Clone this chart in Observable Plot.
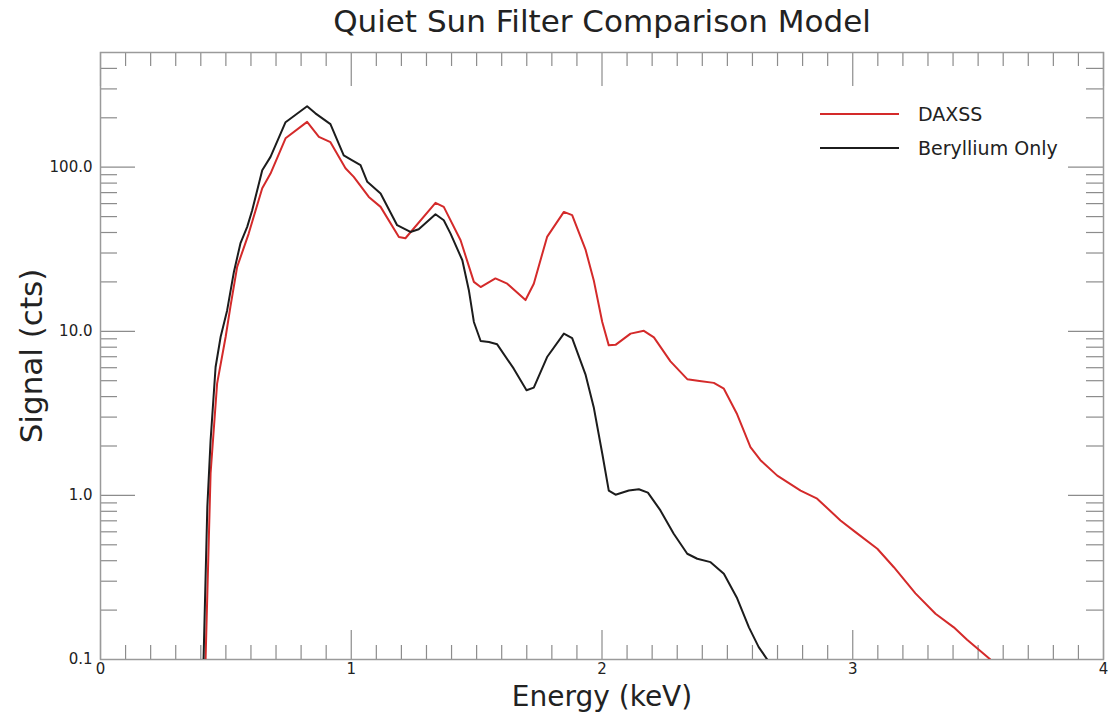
<!DOCTYPE html>
<html>
<head>
<meta charset="utf-8">
<script src="https://cdn.jsdelivr.net/npm/d3@7"></script>
<script src="https://cdn.jsdelivr.net/npm/@observablehq/plot@0.6"></script>
<style>
  html, body { margin: 0; padding: 0; background: #fff; }
  #wrap { position: relative; width: 1109px; height: 714px; font-family: "DejaVu Sans", sans-serif; }
  #legend { position: absolute; left: 820px; top: 97px; font-size: 19px; color: #222; }
  #legend .row { display: flex; align-items: center; height: 34px; }
  #legend .swatch { width: 79px; height: 0; border-top: 2.5px solid; margin-right: 19px; }
</style>
</head>
<body>
<div id="wrap">
  <div id="chart"></div>
  <div id="legend"></div>
</div>
<script>
// Modelled quiet-Sun count spectra, signal (cts) vs. photon energy (keV)
const daxssEnergy = [0.419, 0.439, 0.465, 0.499, 0.518, 0.545, 0.591, 0.645, 0.678, 0.738,
  0.824, 0.871, 0.917, 0.977, 1.010, 1.070, 1.117, 1.190, 1.216, 1.336,
  1.369, 1.436, 1.489, 1.516, 1.575, 1.622, 1.695, 1.728, 1.781, 1.848,
  1.881, 1.934, 1.967, 2.001, 2.027, 2.054, 2.114, 2.167, 2.207, 2.273,
  2.340, 2.389, 2.446, 2.486, 2.539, 2.592, 2.632, 2.699, 2.792, 2.858,
  2.951, 3.011, 3.098, 3.164, 3.250, 3.330, 3.403, 3.456, 3.549];
const daxssSignal = [0.1, 1.36, 4.80, 9.23, 14.1, 24.7, 39.4, 74.5, 91.5, 150,
  189, 153, 142, 98.6, 87.3, 65.9, 57.3, 37.6, 36.9, 60.7,
  57.3, 35.9, 20.0, 18.6, 21.0, 19.5, 15.5, 19.5, 37.6, 53.4,
  51.0, 31.6, 20.5, 11.4, 8.21, 8.27, 9.68, 10.07, 9.19, 6.56,
  5.11, 4.98, 4.85, 4.47, 3.12, 1.97, 1.64, 1.32, 1.07, 0.955,
  0.704, 0.597, 0.473, 0.365, 0.253, 0.190, 0.157, 0.132, 0.1];

const berylliumEnergy = [0.411, 0.426, 0.439, 0.459, 0.479, 0.505, 0.532, 0.558, 0.585, 0.605,
  0.645, 0.678, 0.738, 0.824, 0.857, 0.917, 0.970, 1.004, 1.037, 1.064,
  1.117, 1.183, 1.236, 1.269, 1.336, 1.369, 1.396, 1.443, 1.469, 1.489,
  1.516, 1.549, 1.582, 1.648, 1.699, 1.728, 1.781, 1.848, 1.881, 1.934,
  1.967, 2.001, 2.027, 2.054, 2.107, 2.147, 2.183, 2.233, 2.286, 2.340,
  2.380, 2.433, 2.486, 2.539, 2.586, 2.625, 2.659];
const berylliumSignal = [0.1, 0.849, 2.16, 6.06, 9.23, 13.4, 23.0, 34.3, 43.3, 54.7,
  95.9, 115.6, 188, 235, 213, 183, 118, 110, 103, 81.4,
  69.1, 44.3, 40.3, 41.9, 51.7, 47.5, 39.4, 27.1, 17.8, 11.4,
  8.73, 8.61, 8.33, 5.92, 4.37, 4.54, 6.97, 9.68, 9.09, 5.47,
  3.45, 1.80, 1.07, 1.01, 1.07, 1.09, 1.04, 0.810, 0.584, 0.441,
  0.411, 0.392, 0.333, 0.236, 0.157, 0.119, 0.1];

const seriesNames = ["DAXSS", "Beryllium Only"];
const seriesColors = ["#d42a2a", "#1c1c1c"];

// axis ticks
const xMajor = [0, 1, 2, 3, 4];
const xMinor = d3.range(0, 41).map(i => i / 10).filter(v => !xMajor.includes(v));
const yMajor = [0.1, 1, 10, 100];
const yMinor = [0.2, 0.3, 0.4, 0.5, 0.6, 0.7, 0.8, 0.9,
  2, 3, 4, 5, 6, 7, 8, 9,
  20, 30, 40, 50, 60, 70, 80, 90,
  200, 300, 400];

const rows = [
  ...daxssEnergy.map((e, i) => ({series: seriesNames[0], energy: e, signal: daxssSignal[i]})),
  ...berylliumEnergy.map((e, i) => ({series: seriesNames[1], energy: e, signal: berylliumSignal[i]}))
];

const W = 1109, H = 714, mL = 100, mR = 6, mT = 52, mB = 55;
const innerW = W - mL - mR, innerH = H - mT - mB;
const tickColor = "#8c8c8c";

const chart = Plot.plot({
  width: W, height: H,
  marginLeft: mL, marginRight: mR, marginTop: mT, marginBottom: mB,
  style: {fontFamily: "DejaVu Sans, sans-serif", fontSize: "14px", color: "#222", background: "#fff"},
  x: {domain: [0, 4]},
  y: {type: "log", domain: [0.1, 500]},
  color: {domain: seriesNames, range: seriesColors},
  marks: [
    // inward ticks on all four sides
    Plot.tickY(yMinor, {y: d => d, insetRight: innerW - 17, stroke: tickColor, strokeWidth: 1.2}),
    Plot.tickY(yMinor, {y: d => d, insetLeft: innerW - 17, stroke: tickColor, strokeWidth: 1.2}),
    Plot.tickY(yMajor, {y: d => d, insetRight: innerW - 35, stroke: tickColor, strokeWidth: 1.2}),
    Plot.tickY(yMajor, {y: d => d, insetLeft: innerW - 35, stroke: tickColor, strokeWidth: 1.2}),
    Plot.tickX(xMinor, {x: d => d, insetTop: innerH - 14, stroke: tickColor, strokeWidth: 1.2}),
    Plot.tickX(xMinor, {x: d => d, insetBottom: innerH - 14, stroke: tickColor, strokeWidth: 1.2}),
    Plot.tickX(xMajor, {x: d => d, insetTop: innerH - 29, stroke: tickColor, strokeWidth: 1.2}),
    Plot.tickX(xMajor, {x: d => d, insetBottom: innerH - 34, stroke: tickColor, strokeWidth: 1.2}),
    Plot.frame({stroke: "#9a9a9a", strokeWidth: 1.5}),
    Plot.axisY({ticks: yMajor, tickSize: 0, tickPadding: 8, tickFormat: d => d.toFixed(1), label: null, fontSize: 15}),
    Plot.axisX({ticks: xMajor, tickSize: 0, tickPadding: 4, tickFormat: d => String(d), label: null, fontSize: 15}),
    Plot.line(rows, {x: "energy", y: "signal", z: "series", stroke: "series", strokeWidth: 2, clip: true}),
    Plot.text(["Quiet Sun Filter Comparison Model"], {frameAnchor: "top", lineAnchor: "middle", textAnchor: "middle", dy: -30, fontSize: 31, fill: "#222"}),
    Plot.text(["Energy (keV)"], {frameAnchor: "bottom", lineAnchor: "middle", textAnchor: "middle", dy: 38, fontSize: 28, fill: "#222"}),
    Plot.text(["Signal (cts)"], {frameAnchor: "left", lineAnchor: "middle", textAnchor: "middle", dx: -68, rotate: -90, fontSize: 31, fill: "#222"})
  ]
});
document.getElementById("chart").appendChild(chart);

const legend = document.getElementById("legend");
seriesNames.forEach((name, i) => {
  const row = document.createElement("div");
  row.className = "row";
  const sw = document.createElement("span");
  sw.className = "swatch";
  sw.style.borderTopColor = seriesColors[i];
  const label = document.createElement("span");
  label.textContent = name;
  row.appendChild(sw);
  row.appendChild(label);
  legend.appendChild(row);
});
</script>
</body>
</html>
